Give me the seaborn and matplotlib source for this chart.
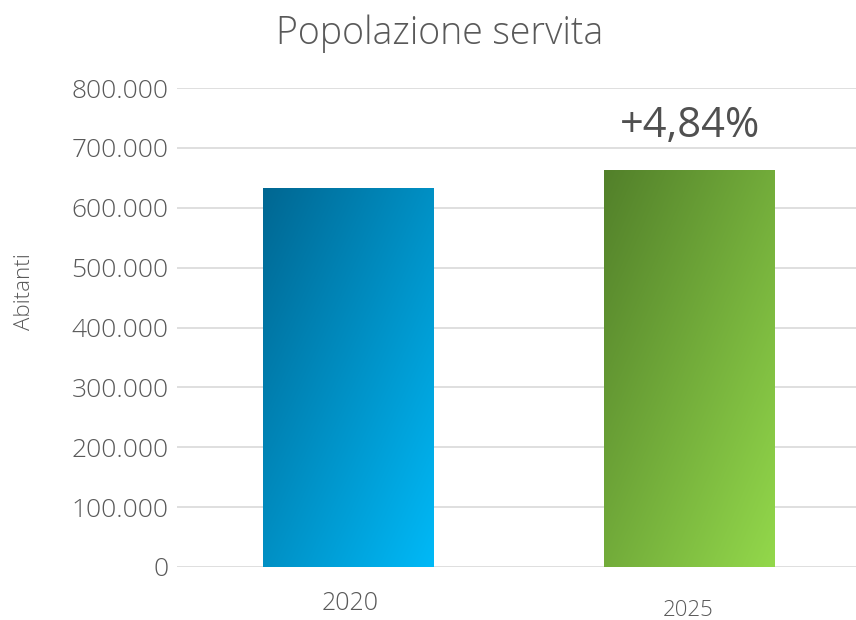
import numpy as np
import pandas as pd
import matplotlib
matplotlib.use("Agg")
import matplotlib.pyplot as plt
from matplotlib.colors import LinearSegmentedColormap
from matplotlib.ticker import FuncFormatter
import seaborn as sns

# Data
years = ["2020", "2025"]
abitanti = [633000, 663640]
variazione = "+4,84%"

# gradient colours per bar (top-left -> bottom-right)
grad_start = ["#006792", "#52802A"]
grad_end = ["#00B9F7", "#93D84B"]

sns.set_theme(style="white")
plt.rcParams["font.family"] = ["Open Sans", "DejaVu Sans"]

df = pd.DataFrame({"Anno": years, "Abitanti": abitanti})

fig = plt.figure(figsize=(8.56, 6.2), dpi=100)
ax = fig.add_axes([0.2068, 0.0855, 0.799, 0.7725])

sns.barplot(data=df, x="Anno", y="Abitanti", width=0.5, ax=ax,
            color="white", edgecolor="none")

ax.set_ylim(0, 800000)
ax.set_yticks(np.arange(0, 800001, 100000))
ax.yaxis.set_major_formatter(FuncFormatter(
    lambda v, p: f"{int(v):,}".replace(",", ".")))
ax.grid(axis="y", color="#D9D9D9", linewidth=1.2)
ax.set_axisbelow(True)
for s in ax.spines.values():
    s.set_visible(False)

# fill bars with diagonal gradient
yy, xx = np.mgrid[0:1:200j, 0:1:200j]
t = (xx + yy) / 2
for i, bar in enumerate(ax.patches):
    cmap = LinearSegmentedColormap.from_list("g", [grad_start[i], grad_end[i]])
    x0, y0 = bar.get_x(), bar.get_y()
    w, h = bar.get_width(), bar.get_height()
    im = ax.imshow(t, cmap=cmap, extent=[x0, x0 + w, y0, y0 + h],
                   origin="upper", aspect="auto", zorder=2, vmin=0, vmax=1)
    im.set_clip_path(bar)
    bar.set_facecolor("none")

ax.set_xlim(-0.5, 1.5)

ax.tick_params(axis="y", labelsize=19, labelcolor="#595959", length=0, pad=6)
for lab in ax.get_yticklabels():
    lab.set_fontweight("light")
ax.set_xticks([])
ax.set_xlabel("")
ax.set_ylabel("")

# category labels (2025 sits a little lower in the original)
fig.text(350 / 856, 1 - 604 / 620, years[0], ha="center", va="center",
         fontsize=18, color="#595959", fontweight="light")
fig.text(688 / 856, 1 - 610 / 620, years[1], ha="center", va="center",
         fontsize=16, color="#595959", fontweight="light")

fig.text(25 / 856, 1 - 292 / 620, "Abitanti", rotation=90, ha="center",
         va="center", fontsize=16, color="#595959", fontweight="light")

ax.text(1, 718000, variazione, ha="center", va="baseline",
        fontsize=30, color="#505050", zorder=5)

fig.suptitle("Popolazione servita", x=0.514, y=0.946, va="center",
             fontsize=27, color="#595959", fontweight="light")

fig.savefig("out.png", dpi=100)
